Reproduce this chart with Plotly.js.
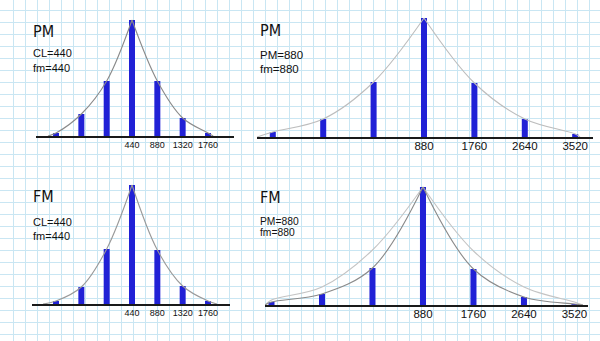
<!DOCTYPE html>
<html><head><meta charset="utf-8">
<script src="https://cdn.plot.ly/plotly-3.0.1.min.js"></script>
<style>html,body{margin:0;padding:0;background:#fff}#c{width:600px;height:341px}</style>
</head><body><div id="c"></div>
<script>
// ---- data ----
const lowPos   = [-880, -440, 0, 440, 880, 1320, 1760];      // CL=440, fm=440 sideband positions
const highPos  = [-1760, -880, 0, 880, 1760, 2640, 3520];    // 880 / 880 sideband positions
const lowTicks = [440, 880, 1320, 1760];
const highTicks = [880, 1760, 2640, 3520];

const pmLowAmp  = [3, 22, 55, 116, 55, 18, 3];
const pmHighAmp = [5, 18, 55, 119, 54, 18, 3];
const fmLowAmp  = [3, 17, 55, 119, 54, 18, 3];
const fmHighAmp = [3, 11, 37, 118, 36, 8, 1];

// envelope end points (where the curves reach the baseline)
const pmLowEnds  = [-1020, 1850];
const pmHighEnds = [-2036, 3604];
const fmLowEnds  = [-1106, 1916];
const fmHighEnds = [-1873, 3668];
// outer (PM) envelope drawn on the FM 880 panel
const fmHighOuterAmp = [5, 18, 55, 118, 54, 18, 3];

const titles = ['PM', 'PM', 'FM', 'FM'];
const notes  = [['CL=440', 'fm=440'], ['PM=880', 'fm=880'], ['CL=440', 'fm=440'], ['PM=880', 'fm=880']];

// ---- layout helpers ----
const W = 600, H = 341;
const FONT = "'Liberation Sans', Arial, sans-serif";
const TFONT = "'DejaVu Sans Condensed', 'Liberation Sans', sans-serif";
const barColor = '#2121d6';

const panels = [
  {id: '2', xpx: [36, 234],  base: 136, range: [-1228, 2212], pos: lowPos,  amp: pmLowAmp,  ends: pmLowEnds,  ticks: lowTicks,  tf: 9,    so: 0,  tx: 32,  ty: [31, 53, 68],  nf: 11,   curve: '#8a8a8a', bw: 104},
  {id: '3', xpx: [257, 593], base: 137, range: [-2036, 3831], pos: highPos, amp: pmHighAmp, ends: pmHighEnds, ticks: highTicks, tf: 11.5, so: -2, tx: 259, ty: [30, 55, 69],  nf: 11.5, curve: '#bdbdbd', bw: 105},
  {id: '4', xpx: [32, 230],  base: 304, range: [-1297, 2142], pos: lowPos,  amp: fmLowAmp,  ends: fmLowEnds,  ticks: lowTicks,  tf: 9,    so: 0,  tx: 32,  ty: [196, 222, 236], nf: 11, curve: '#999999', bw: 104},
  {id: '5', xpx: [265, 588], base: 305, range: [-1873, 3756], pos: highPos, amp: fmHighAmp, ends: fmHighEnds, ticks: highTicks, tf: 11.5, so: -2, tx: 259, ty: [197, 221, 233], nf: 10.3, curve: '#8a8a8a', bw: 105}
];

const traces = [{x: [null], y: [null], type: 'scatter', xaxis: 'x', yaxis: 'y', hoverinfo: 'skip', showlegend: false}];
const layout = {
  width: W, height: H, margin: {l: 0, r: 0, t: 0, b: 0},
  paper_bgcolor: '#ffffff', plot_bgcolor: 'rgba(0,0,0,0)', showlegend: false,
  xaxis: {domain: [0, 1], range: [0, W], tick0: 1, dtick: 12, showgrid: true, gridcolor: '#c9e6f3', gridwidth: 1,
          showticklabels: false, zeroline: false, ticks: '', fixedrange: true},
  yaxis: {domain: [0, 1], range: [H, 0], tick0: 10, dtick: 12, showgrid: true, gridcolor: '#c9e6f3', gridwidth: 1,
          showticklabels: false, zeroline: false, ticks: '', fixedrange: true},
  annotations: []
};

function envelope(pos, amp, ends, color, p) {
  const peak = amp.indexOf(Math.max(...amp));
  const lx = [ends[0]].concat(pos.slice(0, peak + 1));
  const ly = [0].concat(amp.slice(0, peak + 1));
  const rx = pos.slice(peak).concat([ends[1]]);
  const ry = amp.slice(peak).concat([0]);
  [[lx, ly], [rx, ry]].forEach(([xx, yy]) => traces.push({
    x: xx, y: yy, type: 'scatter', mode: 'lines', xaxis: 'x' + p.id, yaxis: 'y' + p.id,
    line: {color: color, width: 1.1, shape: 'spline', smoothing: 1}, hoverinfo: 'skip', showlegend: false
  }));
}

panels.forEach((p, i) => {
  if (p.id === '5') envelope(p.pos, fmHighOuterAmp, p.ends, '#c4c4c4', p);
  envelope(p.pos, p.amp, p.ends, p.curve, p);
  traces.push({
    x: p.pos, y: p.amp, type: 'bar', width: p.bw, xaxis: 'x' + p.id, yaxis: 'y' + p.id,
    marker: {color: barColor, line: {width: 0}}, hoverinfo: 'skip', showlegend: false
  });
  layout['xaxis' + p.id] = {
    domain: [p.xpx[0] / W, p.xpx[1] / W], range: p.range, anchor: 'y' + p.id,
    tickvals: p.ticks, ticktext: p.ticks.map(String), ticks: '', showgrid: false, zeroline: false,
    showline: true, linecolor: '#1a1a1a', linewidth: 1.5, ticklabelstandoff: p.so,
    tickfont: {family: FONT, size: p.tf, color: '#111'}, fixedrange: true
  };
  layout['yaxis' + p.id] = {
    domain: [(H - p.base) / H, (H - p.base + 125) / H], range: [0, 125], anchor: 'x' + p.id,
    visible: false, fixedrange: true
  };
  const texts = [titles[i]].concat(notes[i]);
  texts.forEach((t, k) => layout.annotations.push({
    text: t, xref: 'paper', yref: 'paper', x: p.tx / W, y: 1 - p.ty[k] / H,
    xanchor: 'left', yanchor: 'middle', showarrow: false, borderpad: 0,
    font: k === 0 ? {family: TFONT, size: 16, color: '#111'} : {family: FONT, size: p.nf, color: '#111'}
  }));
});

Plotly.newPlot('c', traces, layout, {staticPlot: true, displayModeBar: false});
</script></body></html>
